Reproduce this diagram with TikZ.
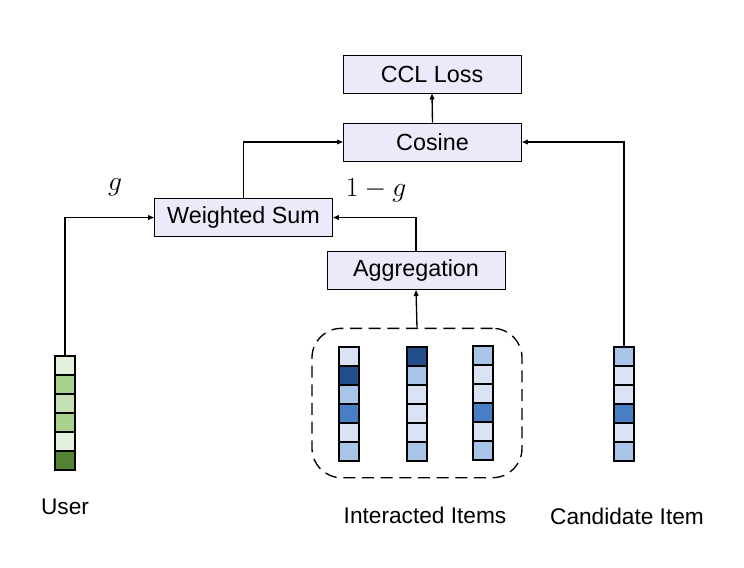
\documentclass[tikz,border=0pt]{standalone}
\usepackage{fontspec}
\setmainfont{Liberation Sans}
\usetikzlibrary{arrows.meta}
\definecolor{boxfill}{RGB}{236,234,250}
\definecolor{gL}{RGB}{226,239,218}
\definecolor{gM}{RGB}{169,209,142}
\definecolor{gS}{RGB}{197,224,180}
\definecolor{gD}{RGB}{84,130,53}
\definecolor{bL}{RGB}{218,227,243}
\definecolor{bM}{RGB}{168,196,230}
\definecolor{bX}{RGB}{74,126,196}
\definecolor{bD}{RGB}{34,78,140}
\tikzset{
  blk/.style={draw=black, line width=0.7pt, fill=boxfill, minimum width=133.5pt, minimum height=28.5pt, inner sep=0pt, font=\fontsize{17.5}{20}\selectfont},
  lbl/.style={font=\fontsize{17}{20}\selectfont, inner sep=0pt},
  mlbl/.style={font=\fontsize{20}{22}\selectfont, inner sep=0pt},
  conn/.style={line width=1pt, -{Triangle[length=4.5pt,width=3.5pt]}},
  cell/.style={draw=black, line width=0.8pt}
}
\begin{document}
\begin{tikzpicture}[x=0.75pt,y=-0.75pt]
\useasboundingbox (0,0) rectangle (744,568);
% blocks
\node[blk] (ccl) at (432,74) {CCL Loss};
\node[blk] (cos) at (432.5,142) {Cosine};
\node[blk] (ws) at (243.5,217.5) {Weighted Sum};
\node[blk] (agg) at (416,270.5) {Aggregation};
% user vector
\foreach \c [count=\i from 0] in {gL,gM,gS,gM,gL,gD}{
  \draw[cell, fill=\c] (55,356+19*\i) rectangle (75,356+19*\i+19);
}
\coordinate (utop) at (65,356);
% interacted
\foreach \c [count=\i from 0] in {bL,bD,bM,bX,bL,bM}{
  \draw[cell, fill=\c] (339,347+19*\i) rectangle (359,347+19*\i+19);
}
\foreach \c [count=\i from 0] in {bD,bM,bL,bL,bL,bM}{
  \draw[cell, fill=\c] (407,347+19*\i) rectangle (427,347+19*\i+19);
}
\foreach \c [count=\i from 0] in {bM,bL,bL,bX,bL,bM}{
  \draw[cell, fill=\c] (473,346+19*\i) rectangle (493,346+19*\i+19);
}
% candidate
\foreach \c [count=\i from 0] in {bM,bL,bL,bX,bL,bM}{
  \draw[cell, fill=\c] (614,347+19*\i) rectangle (634,347+19*\i+19);
}
\coordinate (ctop) at (624,347);
% dashed group
\node[draw, dash pattern=on 9pt off 5pt, line width=1pt, rounded corners=22pt, minimum width=157.5pt, minimum height=112pt, inner sep=0pt] (grp) at (417,403) {};
% connectors
\draw[conn] (cos.north) -- (ccl.south);
\draw[conn] (ws.north) |- (cos.west);
\draw[conn] (utop) |- (ws.west);
\draw[conn] (agg.north) |- (ws.east);
\draw[conn] (grp.north) -- (agg.south);
\draw[conn] (ctop) |- (cos.east);
% labels
\node[mlbl] (g) at (115,187) {$g$};
\node[mlbl] (omg) at (376,190) {$1-g$};
\node[lbl] (user) at (65,507) {User};
\node[lbl] (ii) at (425,515) {Interacted Items};
\node[lbl] (ci) at (627,516) {Candidate Item};
\end{tikzpicture}
\end{document}
